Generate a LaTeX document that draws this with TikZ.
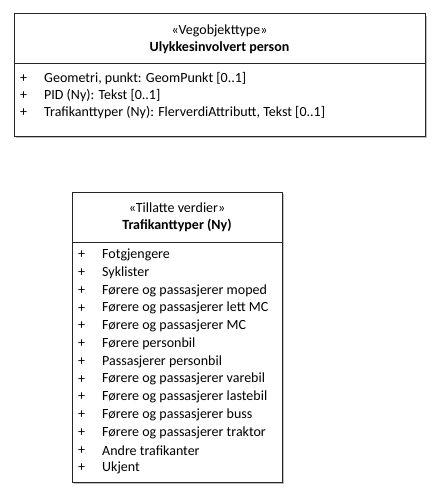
\documentclass[tikz,border=0pt]{standalone}
\usepackage{fontspec}
\setmainfont{Carlito}
\begin{document}
\begin{tikzpicture}[x=1pt,y=-1pt,
  box/.style={draw=black!85,line width=1pt,fill=white},
  shadowline/.style={draw=black!25,line width=1pt},
  txt/.style={inner sep=0pt,font=\fontsize{14}{16}\selectfont},
  hdr/.style={txt,anchor=center},
  item/.style={txt,anchor=west}]
\useasboundingbox (0,0) rectangle (440,500);
% box 1
\draw[shadowline] (16,137.5) -- (426.5,137.5) -- (426.5,16);
\draw[box] (14,14) rectangle (425,136);
\draw[black!85,line width=1pt] (14,64) -- (425,64);
\node[hdr] (s1) at (219.5,31) {«Vegobjekttype»};
\node[hdr] (t1) at (219.5,48) {\bfseries Ulykkesinvolvert person};
\foreach \y/\t [count=\i] in {79/{Geometri, punkt: GeomPunkt [0..1]},96/{PID (Ny): Tekst [0..1]},113/{Trafikanttyper (Ny): FlerverdiAttributt, Tekst [0..1]}}{
  \node[item] (p1\i) at (20,\y) {+};
  \node[item] (a1\i) at (44,\y) {\t};
}
% box 2
\draw[shadowline] (74,483.5) -- (283.5,483.5) -- (283.5,194);
\draw[box] (72,192) rectangle (282,482);
\draw[black!85,line width=1pt] (72,242) -- (282,242);
\node[hdr] (s2) at (177,208) {«Tillatte verdier»};
\node[hdr] (t2) at (177,225) {\bfseries Trafikanttyper (Ny)};
\foreach \t [count=\i] in {Fotgjengere,Syklister,Førere og passasjerer moped,Førere og passasjerer lett MC,Førere og passasjerer MC,Førere personbil,Passasjerer personbil,Førere og passasjerer varebil,Førere og passasjerer lastebil,Førere og passasjerer buss,Førere og passasjerer traktor,Andre trafikanter,Ukjent}{
  \node[item] (p2\i) at (78,{255+(\i-1)*17.75}) {+};
  \node[item] (a2\i) at (102,{255+(\i-1)*17.75}) {\t};
}
\end{tikzpicture}
\end{document}
